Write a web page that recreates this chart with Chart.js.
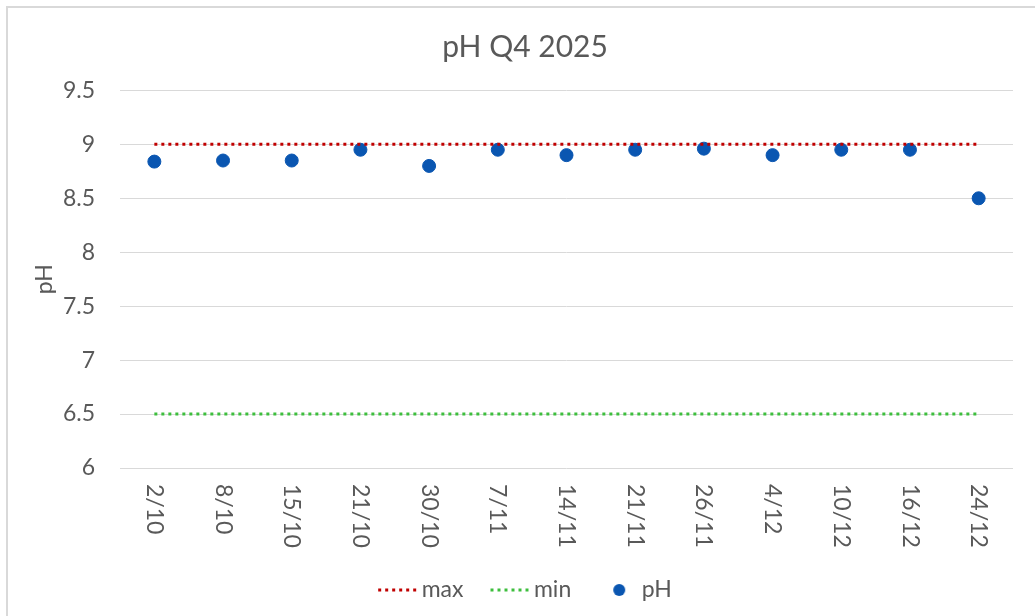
<!DOCTYPE html>
<html>
<head>
<meta charset="utf-8">
<script src="https://cdn.jsdelivr.net/npm/chart.js@4.4.1/dist/chart.umd.min.js"></script>
<style>
  html, body { margin: 0; padding: 0; background: #fff; overflow: hidden; }
  #wrap { position: absolute; left: 0; top: 0; width: 1050px; height: 616px; }
</style>
</head>
<body>
<div id="wrap"><canvas id="c"></canvas></div>
<script>
const categories = ['2/10','8/10','15/10','21/10','30/10','7/11','14/11','21/11','26/11','4/12','10/12','16/12','24/12'];
const phValues = [8.84, 8.85, 8.85, 8.95, 8.8, 8.95, 8.9, 8.95, 8.96, 8.9, 8.95, 8.95, 8.5];
const maxValues = [9, 9, 9, 9, 9, 9, 9, 9, 9, 9, 9, 9, 9];
const minValues = [6.5, 6.5, 6.5, 6.5, 6.5, 6.5, 6.5, 6.5, 6.5, 6.5, 6.5, 6.5, 6.5];
const yTicks = [6, 6.5, 7, 7.5, 8, 8.5, 9, 9.5];
const yTickLabels = ['6', '6.5', '7', '7.5', '8', '8.5', '9', '9.5'];
const seriesNames = ['max', 'min', 'pH'];

const RED = '#C00000', GREEN = '#3DBE3D', BLUE = '#0A56B1', TXT = '#595959';
const FONT = 'Lato, "Open Sans", sans-serif';

function lineIcon(color) {
  const c = document.createElement('canvas');
  c.width = 48; c.height = 6;
  const g = c.getContext('2d');
  g.fillStyle = color;
  for (let x = 8; x < 48; x += 7) g.fillRect(x, 1.5, 3, 3);
  return c;
}
function dotIcon(color) {
  const c = document.createElement('canvas');
  c.width = 40; c.height = 14;
  const g = c.getContext('2d');
  g.fillStyle = color;
  g.beginPath(); g.arc(25, 7, 6, 0, Math.PI * 2); g.fill();
  return c;
}
const icons = [lineIcon(RED), lineIcon(GREEN), dotIcon(BLUE)];

const frame = {
  id: 'frame',
  beforeDraw(chart) {
    const ctx = chart.ctx;
    ctx.save();
    ctx.strokeStyle = '#D9D9D9';
    ctx.lineWidth = 2;
    ctx.strokeRect(7, 7, 3000, 3000);
    ctx.restore();
  }
};

const xLabels = {
  id: 'xLabels',
  afterDraw(chart) {
    const sc = chart.scales.x;
    const ctx = chart.ctx;
    ctx.save();
    ctx.fillStyle = TXT;
    ctx.font = '23px ' + FONT;
    ctx.textAlign = 'left';
    ctx.textBaseline = 'middle';
    categories.forEach((lab, i) => {
      const x = sc.getPixelForTick(i);
      ctx.save();
      ctx.translate(x, sc.top + 16);
      ctx.rotate(Math.PI / 2);
      ctx.fillText(lab, 0, 0);
      ctx.restore();
    });
    ctx.restore();
  }
};

new Chart(document.getElementById('c'), {
  type: 'line',
  data: {
    labels: categories,
    datasets: [
      { label: seriesNames[0], data: maxValues, borderColor: RED, backgroundColor: RED, borderWidth: 3, borderDash: [3, 4], pointRadius: 0, fill: false },
      { label: seriesNames[1], data: minValues, borderColor: GREEN, backgroundColor: GREEN, borderWidth: 3, borderDash: [3, 4], pointRadius: 0, fill: false },
      { label: seriesNames[2], data: phValues, showLine: false, pointRadius: 6.5, pointHoverRadius: 6.5, pointStyle: 'circle', pointBackgroundColor: BLUE, pointBorderColor: BLUE, borderColor: BLUE, backgroundColor: BLUE }
    ]
  },
  options: {
    responsive: true,
    maintainAspectRatio: false,
    animation: false,
    layout: { padding: { left: 37, right: 37, top: 0, bottom: 4.5 } },
    plugins: {
      tooltip: { enabled: false },
      title: {
        display: true, text: 'pH Q4 2025', color: TXT,
        font: { family: FONT, size: 30, weight: 'normal' },
        padding: { top: 29, bottom: 25.4 }
      },
      legend: {
        position: 'bottom',
        labels: {
          usePointStyle: true,
          pointStyleWidth: 32,
          color: TXT,
          padding: 27,
          font: { family: FONT, size: 23 },
          generateLabels(chart) {
            const items = Chart.defaults.plugins.legend.labels.generateLabels(chart);
            items.forEach((it, i) => { it.pointStyle = icons[i]; });
            return items;
          }
        }
      }
    },
    scales: {
      x: {
        offset: true,
        grid: { display: false },
        border: { display: false },
        ticks: { color: 'rgba(0,0,0,0)', minRotation: 90, maxRotation: 90, font: { family: FONT, size: 23 } },
        afterFit(s) { s.height = 83.5; }
      },
      y: {
        min: 6, max: 9.5,
        afterBuildTicks(s) { s.ticks = yTicks.map(v => ({ value: v })); },
        grid: { color: '#D9D9D9', lineWidth: 1, drawTicks: false },
        border: { display: false },
        ticks: { color: TXT, padding: 25, font: { family: FONT, size: 23 }, callback: (v, i) => yTickLabels[i] },
        title: { display: true, text: 'pH', color: TXT, font: { family: FONT, size: 23, lineHeight: 0.7 }, padding: { top: 0, bottom: 0 } },
        afterFit(s) { s.width = 83; }
      }
    }
  },
  plugins: [frame, xLabels]
});
</script>
</body>
</html>
